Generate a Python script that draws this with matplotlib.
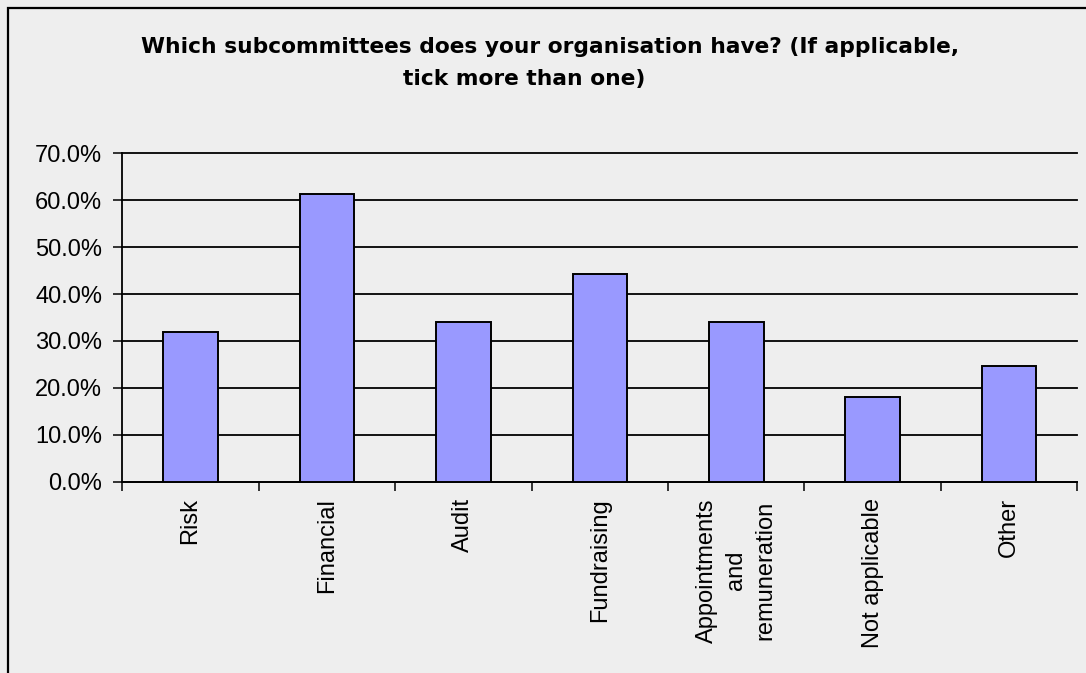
'''
    Bar chart of the subcommittees organisations reported having
'''
from matplotlib import pyplot as plt
from matplotlib.patches import Rectangle
from matplotlib.ticker import FixedLocator, PercentFormatter
import numpy as np

categories = ['Risk', 'Financial', 'Audit', 'Fundraising',
              'Appointments\nand\nremuneration', 'Not applicable', 'Other']
shares     = [31.9, 61.4, 34.0, 44.2, 34.0, 18.1, 24.6]
y_ticks    = [0, 10, 20, 30, 40, 50, 60, 70]

title_l1 = 'Which subcommittees does your organisation have? (If applicable,'
title_l2 = 'tick more than one)'

BG      = '#EEEEEE'
BAR_CLR = '#9999FF'

W, H = 1086, 673

def main():
    fig = plt.figure(figsize=(W/100, H/100), dpi=100, facecolor=BG)

    # outer chart frame (only left and top edges fall inside the image)
    fig.add_artist(Rectangle((8/W, -0.1), 1.2, 1.1 - 8/H, transform=fig.transFigure,
                             facecolor='none', edgecolor='k', lw=1.6))

    ax = fig.add_axes([122.3/W, 1 - 481.7/H, (1077.3 - 122.3)/W, (481.7 - 153.3)/H])
    ax.set_facecolor(BG)

    x = np.arange(len(categories))
    ax.bar(x, shares, width=0.4, color=BAR_CLR, edgecolor='k', lw=1.4, zorder=3)

    ax.set_xlim(-0.5, len(categories) - 0.5)
    ax.set_ylim(0, 70)

    ax.yaxis.set_major_locator(FixedLocator(y_ticks))
    ax.yaxis.set_major_formatter(PercentFormatter(decimals=1))
    ax.grid(axis='y', color='k', lw=1.3, zorder=1)
    ax.set_axisbelow(True)
    for gl in ax.get_ygridlines():
        gl.set_clip_on(False)

    # category boundaries carry the ticks, labels sit at the bar centres
    ax.set_xticks(np.arange(-0.5, len(categories)), labels=[])
    ax.set_xticks(x, labels=categories, minor=True)
    ax.tick_params(axis='x', which='major', direction='out', length=6.5, width=1.1)
    ax.tick_params(axis='x', which='minor', length=0, pad=12)
    ax.tick_params(axis='y', direction='out', length=6.5, width=1.1, pad=8)

    for lbl in ax.get_xticklabels(minor=True):
        lbl.set_rotation(90)
        lbl.set_va('top')
        lbl.set_ha('center')
        lbl.set_multialignment('center')
        lbl.set_linespacing(1.4)
        lbl.set_fontfamily('Liberation Sans')
        lbl.set_fontsize(17)
    for lbl in ax.get_yticklabels():
        lbl.set_fontfamily('Liberation Sans')
        lbl.set_fontsize(17)

    for side in ('top', 'right'):
        ax.spines[side].set_visible(False)
    for side in ('left', 'bottom'):
        ax.spines[side].set_linewidth(1.3)

    fig.text(550/W, 1 - 53/H, title_l1, ha='center', va='baseline',
             fontsize=15.7, fontweight='bold', family='DejaVu Sans')
    fig.text(524/W, 1 - 85/H, title_l2, ha='center', va='baseline',
             fontsize=15.7, fontweight='bold', family='DejaVu Sans')

    fig.savefig('out.png', dpi=100, facecolor=BG)
    plt.close(fig)


if __name__ == '__main__': main()
